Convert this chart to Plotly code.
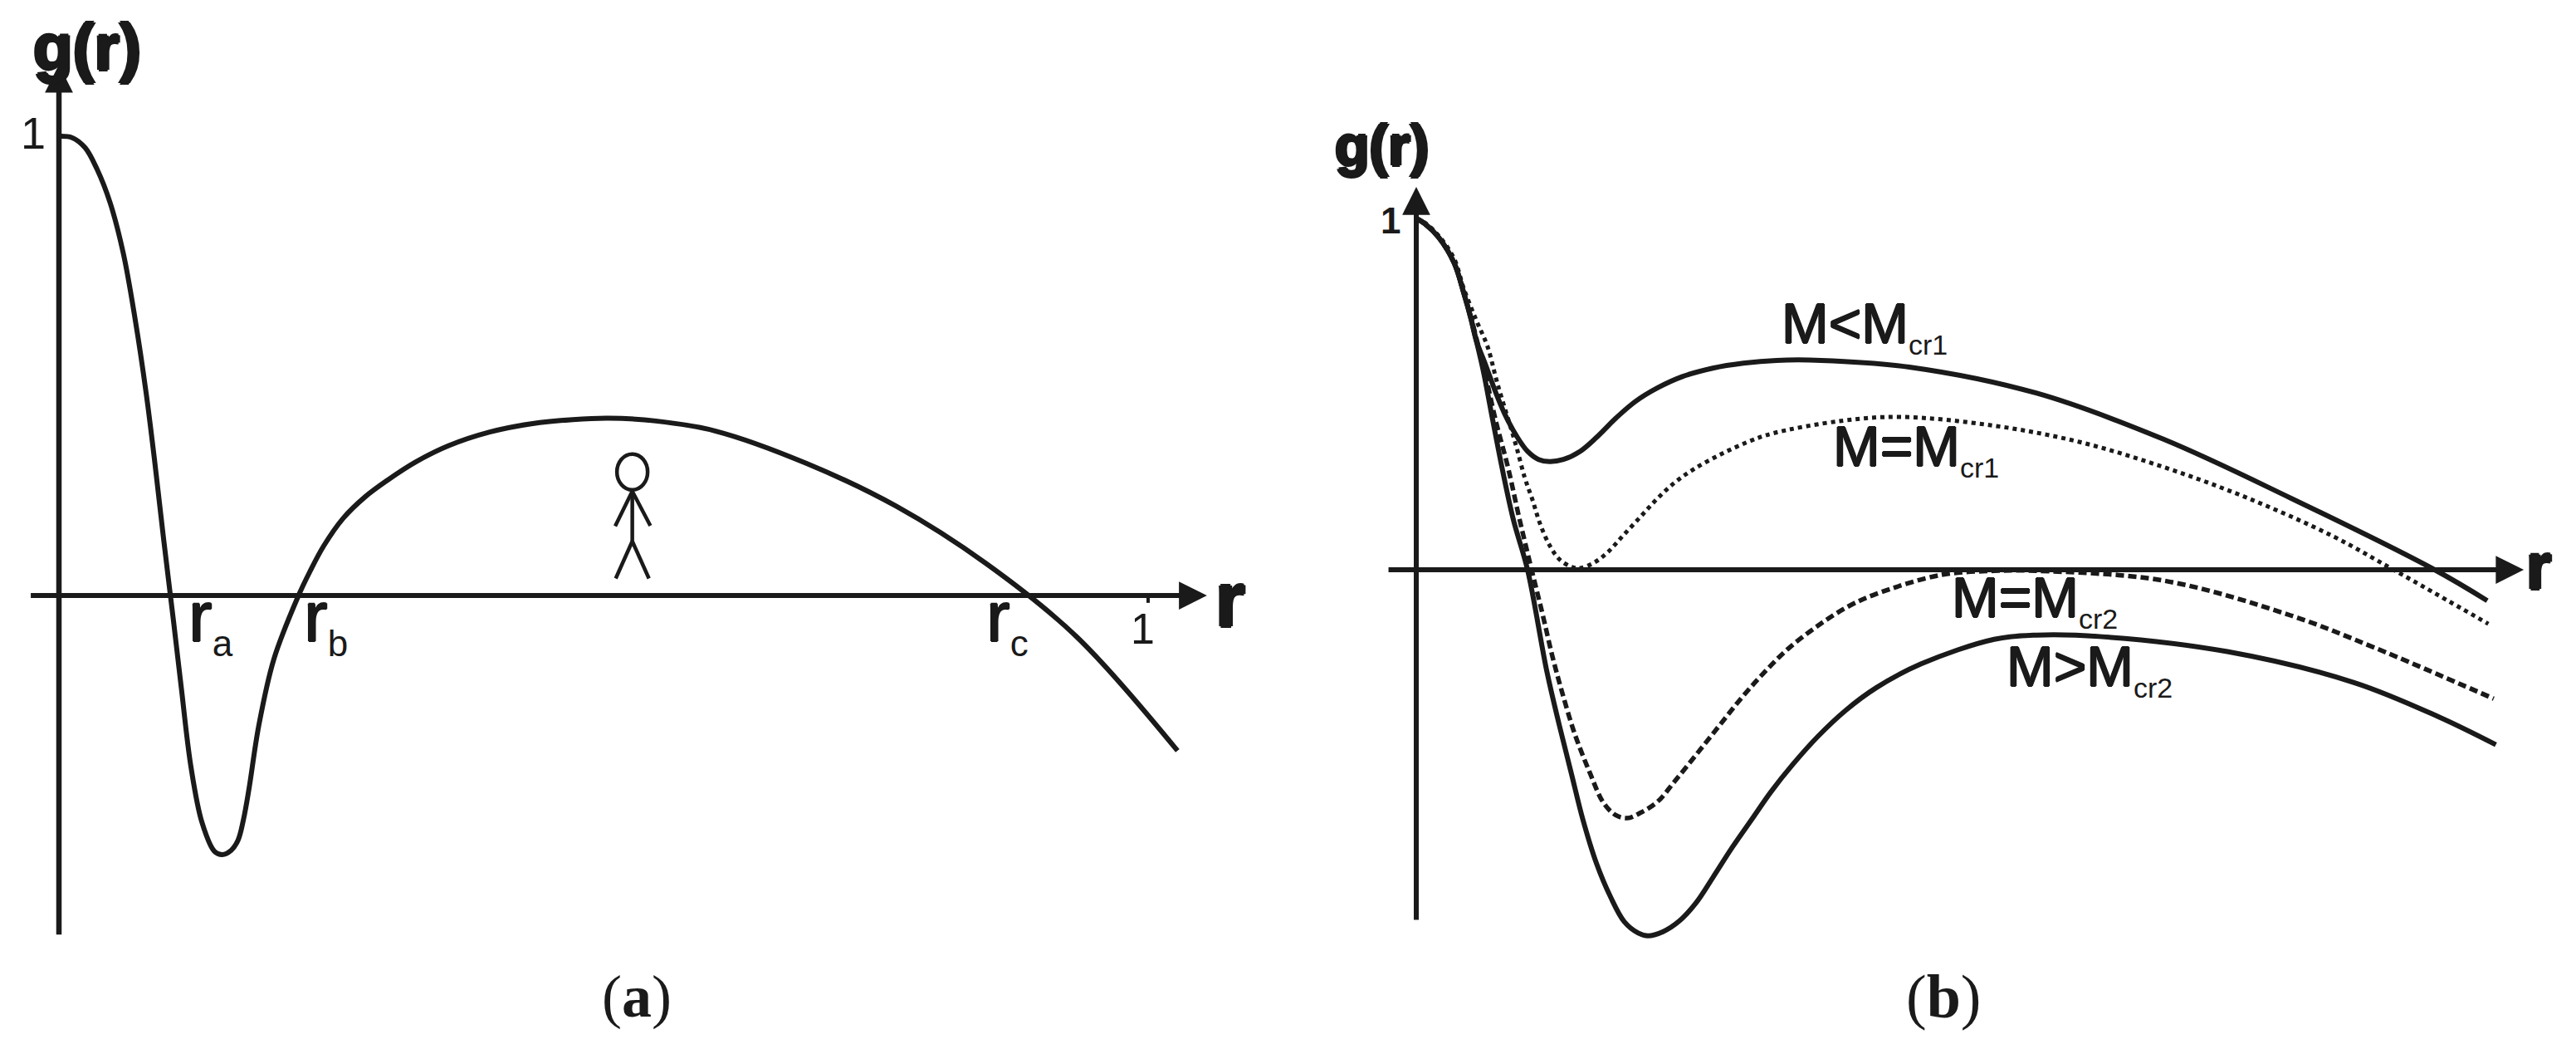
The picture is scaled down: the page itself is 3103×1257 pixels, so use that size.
import plotly.graph_objects as go

W, H = 3103, 1257
INK = "#1a1a1a"
SANS = "Liberation Sans"
SERIF = "Liberation Serif"

# panel (a), g(r) with the three roots
r_a = [0, .012, .024, .035, .047, .059, .070, .080, .088, .096, .1054, .1123, .1212, .1313, .1428, .1499, .158,
       .1644, .1694, .1745, .1835, .1974, .2198, .2304, .2431, .2609, .2812, .3016, .327, .3575, .3956, .4337, .4718,
       .5048, .548, .603, .686, .769, .851, .934, 1.027]
g_a = [1.0, .997, .975, .928, .855, .746, .601, .442, .29, .125, -.06, -.2, -.373, -.494, -.557, -.564, -.555,
       -.533, -.488, -.421, -.283, -.138, -.001, .052, .108, .168, .215, .251, .29, .326, .356, .374, .383,
       .386, .38, .358, .288, .194, .07, -.089, -.338]

# panel (b), one curve per mass range
r_lt1 = [0, .008, .0211, .0353, .0443, .0508, .0559, .0636, .0752, .0829, .0933, .1036, .1138, .1242, .137, .1525, .1679,
         .186, .204, .2247, .2478, .2761, .3045, .3354, .377, .459, .577, .696, .814, .948, .997]
g_lt1 = [1.0, .985, .945, .873, .787, .716, .652, .591, .495, .44, .381, .337, .314, .308, .314, .337, .377,
         .432, .479, .518, .55, .574, .588, .596, .596, .577, .503, .371, .204, 0, -.088]

r_eq1 = [0, .008, .0211, .0353, .0443, .0559, .0662, .0752, .0868, .0933, .101, .1082, .1151, .1242, .1332, .1447, .1525,
         .1654, .1783, .1924, .2079, .2233, .2401, .2581, .2838, .3096, .3315, .396, .451, .538, .617, .696, .774,
         .853, .912, .998]
g_eq1 = [1.0, .988, .95, .885, .8, .71, .637, .534, .416, .349, .262, .199, .132, .069, .03, .008, .005,
         .02, .05, .097, .148, .199, .247, .286, .329, .365, .388, .424, .435, .41, .364, .292, .204,
         .096, -.004, -.154]

r_eq2 = [0, .008, .0211, .0353, .0443, .0508, .0559, .064, .074, .0855, .0958, .1074, .1177, .1267, .1357, .1474, .1615,
         .1744, .186, .1963, .2092, .2247, .2401, .2607, .2813, .3019, .3225, .3457, .374, .4024, .4281, .488, .538,
         .577, .696, .814, .893, 1.003]
g_eq2 = [1.0, .985, .945, .873, .787, .72, .66, .56, .424, .29, .148, 0, -.128, -.246, -.348, -.466, -.577,
         -.664, -.699, -.707, -.691, -.66, -.604, -.526, -.447, -.368, -.297, -.226, -.159, -.104, -.069, -.015, -.003,
         -.003, -.031, -.13, -.223, -.367]

r_gt2 = [0, .008, .0211, .0353, .0443, .0508, .0559, .0624, .0713, .0804, .0906, .1036, .1216, .1332, .1448, .1551, .1679,
         .1808, .1937, .2066, .2156, .2298, .2452, .2607, .2761, .2942, .3122, .3302, .3508, .374, .3998, .4281, .47,
         .538, .577, .636, .755, .873, .952, 1.005]
g_gt2 = [1.0, .985, .945, .873, .787, .716, .652, .566, .424, .282, .14, 0, -.29, -.443, -.585, -.711, -.837,
         -.931, -1.002, -1.034, -1.042, -1.03, -.999, -.947, -.876, -.79, -.711, -.632, -.553, -.474, -.4, -.336, -.268,
         -.198, -.186, -.19, -.233, -.321, -.419, -.498]

# stick figure standing under the curve in panel (a)
head_r, head_g = .5264, .269
head_rx, head_gy = .0141, .039
body_r = [.5264, .5264, None, .5107, .5264, .543, None, .5112, .5264, .5417]
body_g = [.227, .118, None, .151, .227, .152, None, .037, .118, .037]

tick_r = [1, 1]
tick_g = [0, -.016]


def px_range(p0, scale, start, stop):
    return [(start - p0) / scale, (stop - p0) / scale]


fig = go.Figure()


def curve(r, g, xa, ya, width, dash="solid", name=None, smooth=True):
    fig.add_trace(go.Scatter(x=r, y=g, xaxis=xa, yaxis=ya, mode="lines", name=name, hoverinfo="skip",
                             line=dict(color=INK, width=width, dash=dash,
                                       shape="spline" if smooth else "linear", smoothing=1.0 if smooth else 0)))


curve(r_a, g_a, "x", "y", 6, name="g(r)")
curve(body_r, body_g, "x", "y", 4.5, name="figure", smooth=False)
curve(tick_r, tick_g, "x", "y", 4, name="tick", smooth=False)

curve(r_lt1, g_lt1, "x2", "y2", 6, name="M<Mcr1")
curve(r_eq1, g_eq1, "x2", "y2", 5, "5px,5px", name="M=Mcr1")
curve(r_eq2, g_eq2, "x2", "y2", 5.5, "10px,5px", name="M=Mcr2")
curve(r_gt2, g_gt2, "x2", "y2", 6, name="M>Mcr2")

fig.add_shape(type="circle", xref="x", yref="y", x0=head_r - head_rx, x1=head_r + head_rx,
              y0=head_g - head_gy, y1=head_g + head_gy, line=dict(color=INK, width=4.5))


def axis_arrow(xa, ya, tip, tail, width):
    fig.add_annotation(xref=xa, yref=ya, axref=xa, ayref=ya, x=tip[0], y=tip[1], ax=tail[0], ay=tail[1], text="",
                       showarrow=True, arrowhead=2, arrowsize=6.75 / width, arrowwidth=width, arrowcolor=INK, standoff=0)


axis_arrow("x", "y", (1.054, 0), (-.027, 0), 6)
axis_arrow("x", "y", (0, 1.156), (0, -.741), 6.5)
axis_arrow("x2", "y2", (1.031, 0), (-.027, 0), 6)
axis_arrow("x2", "y2", (0, 1.09), (0, -1.0), 6)


def label(px, py, text, size, family=SANS, anchor="left", heavy=0):
    shadow = "none"
    if heavy:
        shadow = ",".join(f"{dx}px {dy}px 0 {INK}" for dx, dy in
                          [(heavy, 0), (-heavy, 0), (0, heavy), (0, -heavy)])
    fig.add_annotation(xref="paper", yref="paper", x=px / W, y=1 - py / H, text=text, showarrow=False,
                       xanchor=anchor, yanchor="middle", borderpad=0,
                       font=dict(family=family, size=size, color=INK, shadow=shadow))


def sub(base, low, size=34):
    return f'{base}<sub><span style="font-size:{size}px;text-shadow:none">{low}</span></sub>'


label(105, 57, "<b>g(r)</b>", 78, anchor="center", heavy=2)
label(1664, 175, "<b>g(r)</b>", 68, anchor="center", heavy=2)
label(40, 160, "1", 54, anchor="center")
label(1675, 265, "<b>1</b>", 44, anchor="center")
label(1376, 757, "1", 52, anchor="center")
label(1482, 722, "<b>r</b>", 92, anchor="center", heavy=2)
label(3058, 682, "<b>r</b>", 78, anchor="center", heavy=2)

label(226, 746, sub("r", "a", 44), 86, heavy=1)
label(365, 746, sub("r", "b", 44), 86, heavy=1)
label(1187, 746, sub("r", "c", 44), 86, heavy=1)

label(2145, 392, sub("M&lt;M", "cr1"), 68, heavy=1)
label(2207, 540, sub("M=M", "cr1"), 68, heavy=1)
label(2350, 722, sub("M=M", "cr2"), 68, heavy=1)
label(2416, 805, sub("M&gt;M", "cr2"), 68, heavy=1)

label(767, 1200, "(<b>a</b>)", 72, SERIF, "center")
label(2341, 1200, "(<b>b</b>)", 74, SERIF, "center")

hidden = dict(visible=False, fixedrange=True)
fig.update_layout(
    width=W, height=H, margin=dict(l=0, r=0, t=0, b=0), showlegend=False,
    paper_bgcolor="white", plot_bgcolor="white",
    xaxis=dict(hidden, domain=[0, .5], range=px_range(71, 1312, 0, W / 2)),
    yaxis=dict(hidden, domain=[0, 1], range=[(717 - H) / 553, 717 / 553]),
    xaxis2=dict(hidden, domain=[.5, 1], range=px_range(1706, 1294, W / 2, W)),
    yaxis2=dict(hidden, domain=[0, 1], range=[(686 - H) / 423, 686 / 423], anchor="x2"),
)
# the page's default 8px body margin would push the whole figure off position
fig.write_html("out.html", config=dict(displayModeBar=False),
               post_script="document.body.style.margin='0';")
